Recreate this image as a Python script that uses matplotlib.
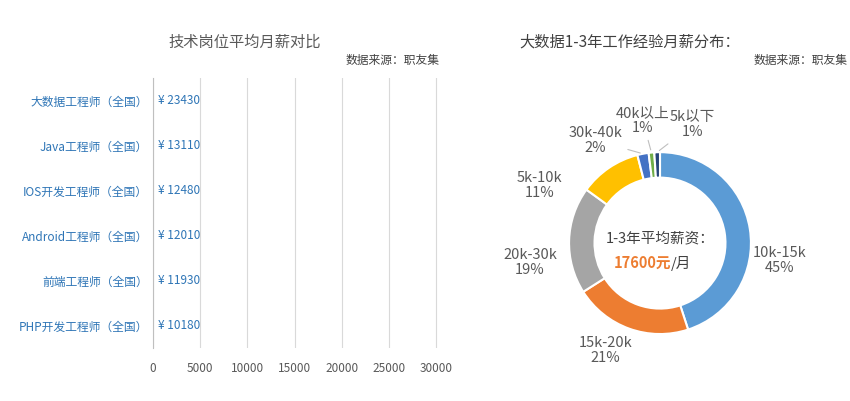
import matplotlib.pyplot as plt
import numpy as np

plt.rcParams['font.family'] = ['Noto Sans CJK SC', 'DejaVu Sans']

jobs = ['大数据工程师（全国）', 'Java工程师（全国）', 'IOS开发工程师（全国）',
        'Android工程师（全国）', '前端工程师（全国）', 'PHP开发工程师（全国）']
salaries = [23430, 13110, 12480, 12010, 11930, 10180]

ranges = ['10k-15k', '15k-20k', '20k-30k', '5k-10k', '30k-40k', '40k以上', '5k以下']
shares = [45, 21, 19, 11, 2, 1, 1]
colors = ['#5B9BD5', '#ED7D31', '#A5A5A5', '#FFC000', '#4472C4', '#70AD47', '#264478']
label_pos = [(1.32, -0.19), (-0.6, -1.18), (-1.43, -0.21), (-1.32, 0.63),
             (-0.71, 1.13), (-0.19, 1.35), (0.36, 1.3)]

fig = plt.figure(figsize=(8.5, 4.01), dpi=100)

# left: salary comparison (bars are invisible in the source, only value labels)
ax = fig.add_axes([153 / 850, 53 / 401, 307 / 850, 270 / 401])
y = np.arange(len(jobs))
ax.barh(y, salaries, color='none')
for yi, v in zip(y, salaries):
    ax.text(500, yi, f'¥ {v}', va='center', ha='left', fontsize=8.5, color='#2E75B6')
ax.set_yticks(y)
ax.set_yticklabels(jobs, fontsize=8.5, color='#2E75B6')
ax.set_ylim(5.5, -0.5)
ax.set_xlim(0, 32500)
ax.set_xticks(range(0, 30001, 5000))
ax.tick_params(axis='x', labelsize=8.5, colors='#595959', length=0, pad=10)
ax.tick_params(axis='y', length=0)
ax.grid(axis='x', color='#D9D9D9', linewidth=0.8)
ax.set_axisbelow(True)
for s in ['top', 'right', 'bottom']:
    ax.spines[s].set_visible(False)
ax.spines['left'].set_color('#BFBFBF')
fig.text(245 / 850, 1 - 42 / 401, '技术岗位平均月薪对比', ha='center', va='center',
         fontsize=11, color='#595959')
fig.text(440 / 850, 1 - 60 / 401, '数据来源：职友集', ha='right', va='center',
         fontsize=8.5, color='#404040')

# right: donut
ax2 = fig.add_axes([514.5 / 850, 12.4 / 401, 291 / 850, 291 / 401])
ax2.pie(shares, colors=colors, startangle=90, counterclock=False,
        wedgeprops=dict(width=0.28, edgecolor='white', linewidth=1.5))
ax2.set_xlim(-1.6, 1.6)
ax2.set_ylim(-1.6, 1.6)
ax2.set_aspect('equal')
ax2.axis('off')
ang = 90
for name, pct, pos in zip(ranges, shares, label_pos):
    mid = np.deg2rad(ang - pct * 3.6 / 2)
    ang -= pct * 3.6
    tx = f'{name}\n{pct}%'
    if pct <= 2:
        ax2.annotate(tx, xy=(np.cos(mid), np.sin(mid)), xytext=pos, ha='center', va='center',
                     fontsize=10.5, color='#595959', linespacing=1.1,
                     arrowprops=dict(arrowstyle='-', color='#BFBFBF', lw=0.8))
    else:
        ax2.text(pos[0], pos[1], tx, ha='center', va='center', fontsize=10.5,
                 color='#595959', linespacing=1.1)
ax2.text(0, 0.05, '1-3年平均薪资：', ha='center', va='center', fontsize=10.5, color='#404040')
ax2.text(0.12, -0.22, '17600元', ha='right', va='center', fontsize=10.5,
         color='#ED7D31', fontweight='bold')
ax2.text(0.12, -0.22, '/月', ha='left', va='center', fontsize=10.5, color='#404040')
fig.text(630 / 850, 1 - 42 / 401, '大数据1-3年工作经验月薪分布：', ha='center', va='center',
         fontsize=11, color='#404040')
fig.text(848 / 850, 1 - 60 / 401, '数据来源：职友集', ha='right', va='center',
         fontsize=8.5, color='#404040')

fig.savefig('out.png', dpi=100)
